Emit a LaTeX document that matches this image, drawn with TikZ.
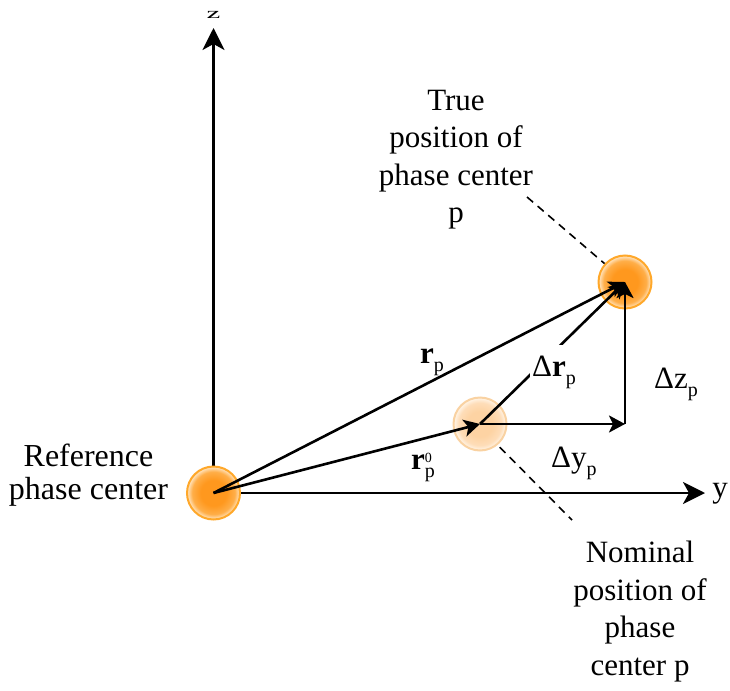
\documentclass[tikz,border=0pt]{standalone}
\usepackage{fontspec}
\usepackage{graphicx}
\setmainfont{Liberation Serif}
\usetikzlibrary{arrows.meta}
\definecolor{ballin}{HTML}{FF981E}
\definecolor{ballmid}{HTML}{FFAE48}
\definecolor{ballout}{HTML}{FFDDB0}
\definecolor{ballrim}{HTML}{FFA82A}
\definecolor{nomin}{HTML}{FDD3A3}
\definecolor{nommid}{HTML}{FEDDB8}
\definecolor{nomout}{HTML}{FFF1E0}
\definecolor{nomrim}{HTML}{F9D2A2}
\pgfdeclareradialshading{ballshade}{\pgfpoint{0bp}{0bp}}{color(0bp)=(ballin); color(12bp)=(ballin); color(20bp)=(ballmid); color(24bp)=(ballout); color(50bp)=(ballout)}
\pgfdeclareradialshading{nomshade}{\pgfpoint{0bp}{0bp}}{color(0bp)=(nomin); color(12bp)=(nomin); color(20bp)=(nommid); color(24bp)=(nomout); color(50bp)=(nomout)}
\newcommand{\lowp}{\raisebox{-8pt}{\fontsize{20}{20}\selectfont p}}
\newcommand{\highzero}{\raisebox{7pt}{\fontsize{14}{14}\selectfont 0}}
\tikzset{
  axisarr/.style={line width=2.6pt, -{Stealth[length=22pt,width=22pt,inset=6pt]}},
  vecarr/.style={line width=2.6pt, -{Stealth[length=16pt,width=17pt,inset=4pt]}},
  ball/.style={circle, minimum size=53pt, inner sep=0pt, line width=2pt, shade, shading=ballshade, draw=ballrim},
  nomball/.style={circle, minimum size=53pt, inner sep=0pt, line width=2pt, shade, shading=nomshade, draw=nomrim},
  lbl/.style={font=\fontsize{31}{37.5}\selectfont, align=center, inner sep=0pt},
  guide/.style={line width=1.6pt, dash pattern=on 8pt off 6pt}
}
\begin{document}
\begin{tikzpicture}[x=1pt,y=-1pt]
\useasboundingbox (0,0) rectangle (730,690);
\coordinate (refc) at (213.5,493);
\coordinate (nomc) at (480,424);
\coordinate (truc) at (625,282);
\coordinate (ztip) at (213.5,28);
\coordinate (ytip) at (705,493);
\coordinate (corner) at (625,424);
\coordinate (tdash) at (527,197);
\coordinate (ndash) at (572,520);
% axes
\draw[axisarr] (refc) -- (ztip);
\draw[axisarr] (refc) -- (ytip);
% spheres
\node[ball] (ref) at (refc) {};
\node[nomball] (nom) at (nomc) {};
\node[ball] (tru) at (truc) {};
% vectors
\draw[vecarr] (ref.center) -- (tru.center);
\draw[vecarr] (ref.center) -- (nom.center);
\draw[vecarr] (nom.center) -- (tru.center);
\draw[vecarr] (nom.center) -- (corner);
\draw[vecarr] (corner) -- (tru.center);
% vector labels
\node[lbl, anchor=base west] (lrp) at (420,363) {\textbf{r}\lowp};
\node[lbl, anchor=base west] (lrp0) at (411,469) {\textbf{r}\rlap{\highzero}\lowp};
\node[lbl, anchor=base west, fill=white, inner xsep=2pt, text height=31pt, text depth=8pt] (ldr) at (530,376) {Δ\textbf{r}\lowp};
\node[lbl, anchor=base west] (ldz) at (654,388) {Δz\lowp};
\node[lbl, anchor=base west] (ldy) at (551,467) {Δy\lowp};
% axis labels
\node[lbl, anchor=base] (lz) at (213.5,18.3) {\scalebox{1}[0.5]{z}};
\node[lbl, anchor=base] (ly) at (720,497) {y};
% text labels (base = last line)
\node[lbl, anchor=base] (ltrue) at (456,222.5) {True\\position of\\phase center\\p};
\node[lbl, anchor=base] (lnom) at (640,675) {Nominal\\position of\\phase\\center p};
\node[lbl, anchor=base, font=\fontsize{32}{32.6}\selectfont] (lref) at (88.5,499.3) {Reference\\phase center};
% guides
\draw[guide] (tdash) -- (tru.138);
\draw[guide, shorten <=3pt] (nom.-50) -- (ndash);
\end{tikzpicture}
\end{document}
